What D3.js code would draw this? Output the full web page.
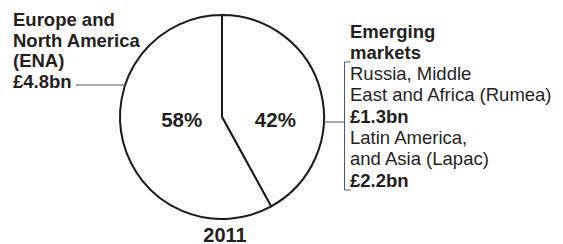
<!DOCTYPE html>
<html>
<head>
<meta charset="utf-8">
<script src="https://cdn.jsdelivr.net/npm/d3@7"></script>
<style>
  body { margin: 0; background: #fff; }
  svg { display: block; font-family: "Liberation Sans", Arial, sans-serif; }
  text { fill: #231f20; }
</style>
</head>
<body>
<div id="chart"></div>
<script>
(function () {

var width = 563,
    height = 244;

// slices, clockwise from 12 o'clock
var regions = ["Emerging markets", "ENA"];
var shares = [42, 58];
var year = "2011";

var enaLines = ["Europe and", "North America", "(ENA)", "£4.8bn"];
var emergingLines = [
  {text: "Emerging", bold: true},
  {text: "markets", bold: true},
  {text: "Russia, Middle", bold: false},
  {text: "East and Africa (Rumea)", bold: false},
  {text: "£1.3bn", bold: true},
  {text: "Latin America,", bold: false},
  {text: "and Asia (Lapac)", bold: false},
  {text: "£2.2bn", bold: true}
];

var cx = 222, cy = 117, r = 102;

var svg = d3.select("#chart").append("svg")
    .attr("width", width)
    .attr("height", height);

var pie = d3.pie()
    .sort(null)
    .value(function (d) { return d; });

var arc = d3.arc()
    .innerRadius(0)
    .outerRadius(r);

var labelArc = d3.arc()
    .innerRadius(r * 0.52)
    .outerRadius(r * 0.52);

var g = svg.append("g")
    .attr("transform", "translate(" + cx + "," + cy + ")");

var arcs = pie(shares);

g.selectAll("path.slice")
    .data(arcs)
  .enter().append("path")
    .attr("class", "slice")
    .attr("d", arc)
    .attr("fill", "#fff")
    .attr("stroke", "#1a1a1a")
    .attr("stroke-width", 2)
    .attr("stroke-linejoin", "round");

// percentages sit level with the centre
var nudge = [2, 11];
g.selectAll("text.pct")
    .data(arcs)
  .enter().append("text")
    .attr("class", "pct")
    .attr("x", function (d, i) { return labelArc.centroid(d)[0] + nudge[i]; })
    .attr("y", 10)
    .attr("text-anchor", "middle")
    .style("font-size", "20.5px")
    .style("font-weight", "bold")
    .text(function (d) { return d.value + "%"; });

svg.append("text")
    .attr("x", cx + 3)
    .attr("y", 241.5)
    .attr("text-anchor", "middle")
    .style("font-size", "20px")
    .style("font-weight", "bold")
    .text(year);

// ENA label, left
var left = svg.append("text")
    .style("font-size", "18.5px")
    .style("font-weight", "bold");

left.selectAll("tspan")
    .data(enaLines)
  .enter().append("tspan")
    .attr("x", 13)
    .attr("y", function (d, i) { return 26 + i * 20.7; })
    .text(function (d) { return d; });

var leftY = 85;
svg.append("line")
    .attr("x1", 76).attr("x2", cx - Math.sqrt(r * r - (cy - leftY) * (cy - leftY)))
    .attr("y1", leftY).attr("y2", leftY)
    .attr("stroke", "#555").attr("stroke-width", 1);

// emerging markets label, right
var right = svg.append("text")
    .style("font-size", "18.5px");

right.selectAll("tspan")
    .data(emergingLines)
  .enter().append("tspan")
    .attr("x", 350)
    .attr("y", function (d, i) { return 37.5 + i * 21.3; })
    .style("font-weight", function (d) { return d.bold ? "bold" : "normal"; })
    .text(function (d) { return d.text; });

var bx = 344.5, bTop = 62, bBot = 190, rightY = 122;
svg.append("path")
    .attr("d", "M" + (bx + 6) + "," + bTop + "H" + bx + "V" + bBot + "H" + (bx + 6))
    .attr("fill", "none")
    .attr("stroke", "#555").attr("stroke-width", 1);

svg.append("line")
    .attr("x1", cx + r).attr("x2", bx)
    .attr("y1", rightY).attr("y2", rightY)
    .attr("stroke", "#555").attr("stroke-width", 1);

})();
</script>
</body>
</html>
